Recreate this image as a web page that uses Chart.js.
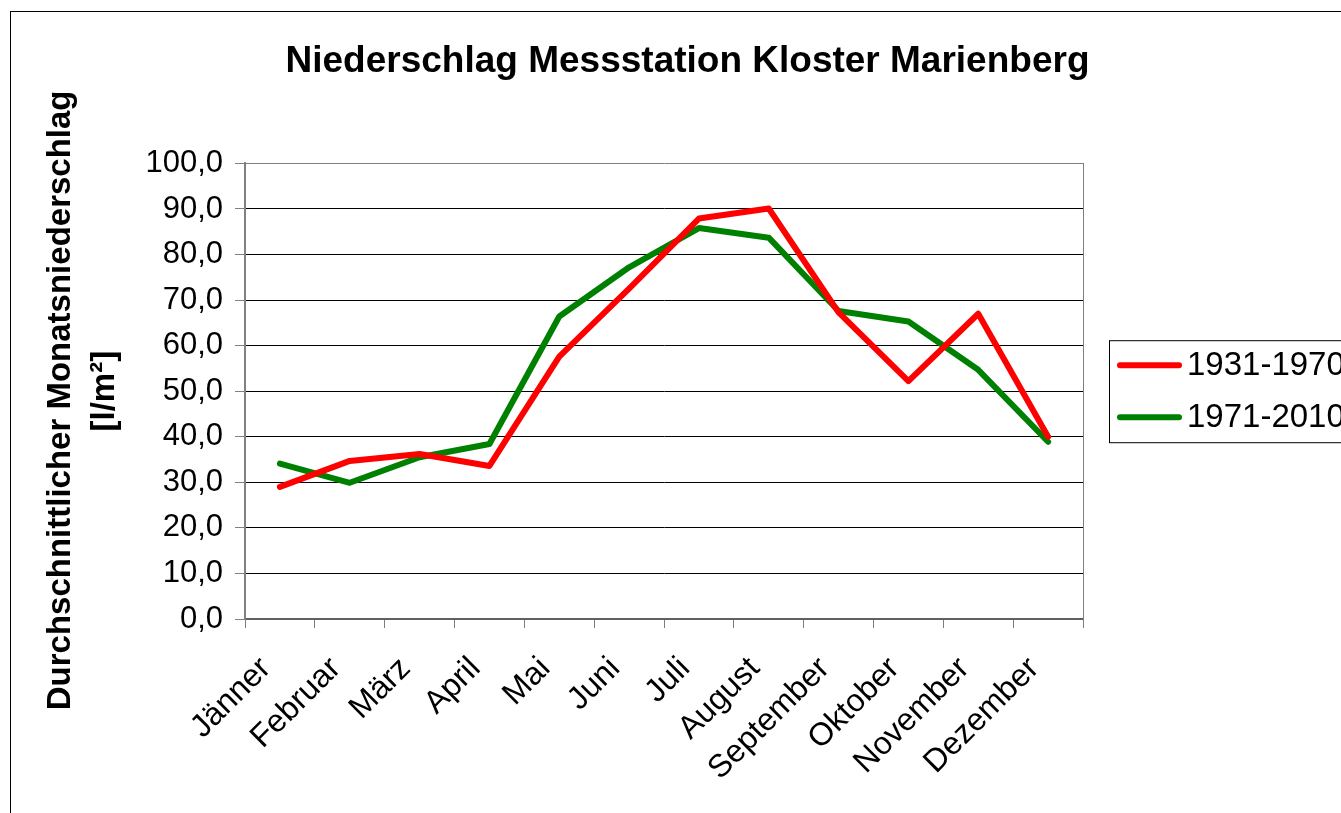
<!DOCTYPE html>
<html lang="de">
<head>
<meta charset="UTF-8">
<title>Niederschlag Messstation Kloster Marienberg</title>
<script src="https://cdn.jsdelivr.net/npm/chart.js"></script>
<style>
  html, body { margin: 0; padding: 0; background: #fff; overflow: hidden; width: 1341px; height: 813px; }
  #frame { position: absolute; left: 10px; top: 11px; width: 1500px; height: 1000px; border: 1px solid #000; }
  #chart { position: absolute; left: 0; top: 0; }
</style>
</head>
<body>
<div id="frame"></div>
<canvas id="chart" width="1375" height="813"></canvas>
<script>
// monthly mean precipitation, l/m²
const months = ['Jänner', 'Februar', 'März', 'April', 'Mai', 'Juni', 'Juli', 'August', 'September', 'Oktober', 'November', 'Dezember'];
const rain1931 = [29.0, 34.7, 36.2, 33.6, 57.6, 72.5, 87.9, 90.1, 67.3, 52.2, 67.0, 40.0];
const rain1971 = [34.1, 29.9, 35.5, 38.4, 66.4, 77.2, 85.8, 83.7, 67.6, 65.3, 54.7, 38.9];
const seriesNames = ['1931-1970', '1971-2010'];
const yMin = 0, yMax = 100, yStep = 10;

Chart.defaults.font.family = "'Liberation Sans', Arial, sans-serif";
Chart.defaults.color = '#000';

// legend drawn in the space right of the plot, with a frame like the original
const boxedLegend = {
    id: 'boxedLegend',
    afterDraw(chart) {
        const ctx = chart.ctx;
        const area = chart.chartArea;
        const x0 = area.right + 26;
        const mid = (area.top + area.bottom) / 2;
        ctx.save();
        ctx.strokeStyle = '#000';
        ctx.lineWidth = 1;
        ctx.strokeRect(x0 + 0.5, mid - 51 + 0.5, 320, 102);
        ctx.font = "33px 'Liberation Sans', Arial, sans-serif";
        ctx.textBaseline = 'middle';
        chart.data.datasets.forEach((ds, i) => {
            const y = mid - 26 + i * 52;
            ctx.beginPath();
            ctx.strokeStyle = ds.borderColor;
            ctx.lineWidth = 6;
            ctx.lineCap = 'round';
            ctx.moveTo(x0 + 11, y);
            ctx.lineTo(x0 + 70, y);
            ctx.stroke();
            ctx.fillStyle = '#000';
            ctx.fillText(ds.label, x0 + 78, y + 1);
        });
        ctx.restore();
    }
};

new Chart(document.getElementById('chart'), {
    type: 'line',
    data: {
        labels: months,
        datasets: [{
            label: seriesNames[0],
            data: rain1931,
            borderColor: '#ff0000',
            borderWidth: 6,
            borderCapStyle: 'round',
            borderJoinStyle: 'round',
            pointRadius: 0,
            tension: 0,
            fill: false
        }, {
            label: seriesNames[1],
            data: rain1971,
            borderColor: '#008000',
            borderWidth: 6,
            borderCapStyle: 'round',
            borderJoinStyle: 'round',
            pointRadius: 0,
            tension: 0,
            fill: false
        }]
    },
    options: {
        responsive: false,
        animation: false,
        devicePixelRatio: 1,
        layout: { padding: 0 },
        plugins: {
            legend: { display: false },
            tooltip: { enabled: false },
            title: {
                display: true,
                text: 'Niederschlag Messstation Kloster Marienberg',
                font: { size: 37, weight: 'bold', lineHeight: 1.2 },
                color: '#000',
                padding: { top: 40, bottom: 79 }
            }
        },
        scales: {
            x: {
                offset: true,
                grid: { offset: true, drawOnChartArea: false, tickColor: '#808080', tickLength: 9 },
                border: { color: '#606060', width: 2 },
                ticks: {
                    maxRotation: 45, minRotation: 45, autoSkip: false,
                    font: { size: 32 }, color: '#000',
                    padding: 22, labelOffset: -14
                },
                afterFit: s => { s.height = 194; }
            },
            y: {
                min: yMin,
                max: yMax,
                ticks: {
                    stepSize: yStep,
                    font: { size: 31 },
                    color: '#000',
                    padding: 12,
                    callback: v => v.toFixed(1).replace('.', ',')
                },
                grid: {
                    color: c => (c.tick && c.tick.value === yMax) ? '#808080' : '#000',
                    tickColor: '#808080',
                    tickLength: 10,
                    lineWidth: 1
                },
                border: { color: '#808080', width: 2 },
                title: {
                    display: true,
                    text: ['Durchschnittlicher Monatsniederschlag  ', '[l/m²]'],
                    font: { size: 33, weight: 'bold', lineHeight: 1.36 },
                    color: '#000',
                    padding: { top: 38, bottom: 0 }
                },
                afterFit: s => { s.width = 245; }
            },
            yR: {
                position: 'right',
                ticks: { display: false },
                grid: { display: false },
                border: { display: true, color: '#808080', width: 1 },
                afterFit: s => { s.width = 292; }
            }
        }
    },
    plugins: [boxedLegend]
});
</script>
</body>
</html>
